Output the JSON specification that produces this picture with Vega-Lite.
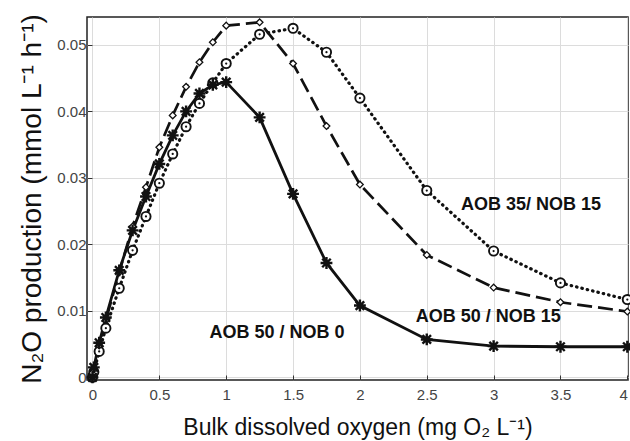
{
  "$schema": "https://vega.github.io/schema/vega-lite/v6.json",
  "autosize": {"type": "none"},
  "width": 541,
  "height": 363,
  "padding": {"left": 87, "top": 17, "right": 2, "bottom": 61},
  "background": "white",
  "config": {
    "view": {"stroke": "#222", "strokeWidth": 1.5},
    "axis": {
      "grid": true, "gridColor": "#dcdcdc", "gridWidth": 1,
      "domain": false, "ticks": true, "tickColor": "#333", "tickSize": -5,
      "labelFont": "Liberation Sans", "labelFontSize": 15, "labelColor": "#444",
      "titleFont": "Liberation Sans", "titleFontWeight": "normal", "titleColor": "#111"
    }
  },
  "datasets": {
    "series": [
      {"s": "AOB 50 / NOB 0", "x": 0, "y": 0},
      {"s": "AOB 50 / NOB 0", "x": 0.01, "y": 0.0015},
      {"s": "AOB 50 / NOB 0", "x": 0.05, "y": 0.0052},
      {"s": "AOB 50 / NOB 0", "x": 0.1, "y": 0.009},
      {"s": "AOB 50 / NOB 0", "x": 0.2, "y": 0.0161},
      {"s": "AOB 50 / NOB 0", "x": 0.3, "y": 0.0221},
      {"s": "AOB 50 / NOB 0", "x": 0.4, "y": 0.0272},
      {"s": "AOB 50 / NOB 0", "x": 0.5, "y": 0.0321},
      {"s": "AOB 50 / NOB 0", "x": 0.6, "y": 0.0364},
      {"s": "AOB 50 / NOB 0", "x": 0.7, "y": 0.0400},
      {"s": "AOB 50 / NOB 0", "x": 0.8, "y": 0.0427},
      {"s": "AOB 50 / NOB 0", "x": 0.9, "y": 0.0440},
      {"s": "AOB 50 / NOB 0", "x": 1.0, "y": 0.0444},
      {"s": "AOB 50 / NOB 0", "x": 1.25, "y": 0.0391},
      {"s": "AOB 50 / NOB 0", "x": 1.5, "y": 0.0276},
      {"s": "AOB 50 / NOB 0", "x": 1.75, "y": 0.0172},
      {"s": "AOB 50 / NOB 0", "x": 2.0, "y": 0.0108},
      {"s": "AOB 50 / NOB 0", "x": 2.5, "y": 0.0057},
      {"s": "AOB 50 / NOB 0", "x": 3.0, "y": 0.0047},
      {"s": "AOB 50 / NOB 0", "x": 3.5, "y": 0.0046},
      {"s": "AOB 50 / NOB 0", "x": 4.0, "y": 0.0046},
      {"s": "AOB 50 / NOB 15", "x": 0, "y": 0},
      {"s": "AOB 50 / NOB 15", "x": 0.01, "y": 0.0012},
      {"s": "AOB 50 / NOB 15", "x": 0.05, "y": 0.0048},
      {"s": "AOB 50 / NOB 15", "x": 0.1, "y": 0.0086},
      {"s": "AOB 50 / NOB 15", "x": 0.2, "y": 0.0158},
      {"s": "AOB 50 / NOB 15", "x": 0.3, "y": 0.0227},
      {"s": "AOB 50 / NOB 15", "x": 0.4, "y": 0.0286},
      {"s": "AOB 50 / NOB 15", "x": 0.5, "y": 0.0346},
      {"s": "AOB 50 / NOB 15", "x": 0.6, "y": 0.0394},
      {"s": "AOB 50 / NOB 15", "x": 0.7, "y": 0.0437},
      {"s": "AOB 50 / NOB 15", "x": 0.8, "y": 0.0474},
      {"s": "AOB 50 / NOB 15", "x": 0.9, "y": 0.0504},
      {"s": "AOB 50 / NOB 15", "x": 1.0, "y": 0.0529},
      {"s": "AOB 50 / NOB 15", "x": 1.25, "y": 0.0534},
      {"s": "AOB 50 / NOB 15", "x": 1.5, "y": 0.0472},
      {"s": "AOB 50 / NOB 15", "x": 1.75, "y": 0.0378},
      {"s": "AOB 50 / NOB 15", "x": 2.0, "y": 0.0290},
      {"s": "AOB 50 / NOB 15", "x": 2.5, "y": 0.0184},
      {"s": "AOB 50 / NOB 15", "x": 3.0, "y": 0.0135},
      {"s": "AOB 50 / NOB 15", "x": 3.5, "y": 0.0113},
      {"s": "AOB 50 / NOB 15", "x": 4.0, "y": 0.0099},
      {"s": "AOB 35/ NOB 15", "x": 0, "y": 0},
      {"s": "AOB 35/ NOB 15", "x": 0.01, "y": 0.0008},
      {"s": "AOB 35/ NOB 15", "x": 0.05, "y": 0.0039},
      {"s": "AOB 35/ NOB 15", "x": 0.1, "y": 0.0074},
      {"s": "AOB 35/ NOB 15", "x": 0.2, "y": 0.0134},
      {"s": "AOB 35/ NOB 15", "x": 0.3, "y": 0.0191},
      {"s": "AOB 35/ NOB 15", "x": 0.4, "y": 0.0242},
      {"s": "AOB 35/ NOB 15", "x": 0.5, "y": 0.0292},
      {"s": "AOB 35/ NOB 15", "x": 0.6, "y": 0.0336},
      {"s": "AOB 35/ NOB 15", "x": 0.7, "y": 0.0377},
      {"s": "AOB 35/ NOB 15", "x": 0.8, "y": 0.0412},
      {"s": "AOB 35/ NOB 15", "x": 0.9, "y": 0.0443},
      {"s": "AOB 35/ NOB 15", "x": 1.0, "y": 0.0472},
      {"s": "AOB 35/ NOB 15", "x": 1.25, "y": 0.0516},
      {"s": "AOB 35/ NOB 15", "x": 1.5, "y": 0.0525},
      {"s": "AOB 35/ NOB 15", "x": 1.75, "y": 0.0489},
      {"s": "AOB 35/ NOB 15", "x": 2.0, "y": 0.0420},
      {"s": "AOB 35/ NOB 15", "x": 2.5, "y": 0.0281},
      {"s": "AOB 35/ NOB 15", "x": 3.0, "y": 0.0190},
      {"s": "AOB 35/ NOB 15", "x": 3.5, "y": 0.0142},
      {"s": "AOB 35/ NOB 15", "x": 4.0, "y": 0.0117}
    ],
    "labels": [
      {"label": "AOB 35/ NOB 15", "x": 3.28, "y": 0.0259},
      {"label": "AOB 50 / NOB 15", "x": 2.96, "y": 0.0091},
      {"label": "AOB 50 / NOB 0", "x": 1.38, "y": 0.0066}
    ]
  },
  "encoding": {
    "x": {
      "field": "x", "type": "quantitative",
      "scale": {"domain": [-0.041, 4.005], "nice": false, "zero": false},
      "axis": {"values": [0, 0.5, 1, 1.5, 2, 2.5, 3, 3.5, 4], "format": "~g", "labelPadding": 12, "titlePadding": 14,
               "titleFontSize": 23, "title": "Bulk dissolved oxygen (mg O₂ L⁻¹)"}
    },
    "y": {
      "field": "y", "type": "quantitative",
      "scale": {"domain": [-0.0004, 0.0542], "nice": false, "zero": false},
      "axis": {"values": [0, 0.01, 0.02, 0.03, 0.04, 0.05], "format": "~g", "labelPadding": 6, "titlePadding": 10,
               "titleFontSize": 28, "title": "N₂O production (mmol L⁻¹ h⁻¹)"}
    }
  },
  "layer": [
    {
      "data": {"name": "series"},
      "transform": [{"filter": "datum.s === 'AOB 35/ NOB 15'"}],
      "mark": {"type": "line", "color": "#111", "strokeWidth": 3.2, "strokeDash": [0.5, 5], "strokeCap": "round"}
    },
    {
      "data": {"name": "series"},
      "transform": [{"filter": "datum.s === 'AOB 50 / NOB 15'"}],
      "mark": {"type": "line", "color": "#111", "strokeWidth": 2.7, "strokeDash": [15, 6]}
    },
    {
      "data": {"name": "series"},
      "transform": [{"filter": "datum.s === 'AOB 50 / NOB 0'"}],
      "mark": {"type": "line", "color": "#111", "strokeWidth": 2.8}
    },
    {
      "data": {"name": "series"},
      "transform": [{"filter": "datum.s === 'AOB 35/ NOB 15'"}],
      "mark": {"type": "point", "shape": "circle", "size": 85, "filled": false, "stroke": "#111", "strokeWidth": 1.9, "fill": "white", "opacity": 1}
    },
    {
      "data": {"name": "series"},
      "transform": [{"filter": "datum.s === 'AOB 35/ NOB 15'"}],
      "mark": {"type": "point", "shape": "circle", "size": 5, "filled": true, "color": "#111", "opacity": 1}
    },
    {
      "data": {"name": "series"},
      "transform": [{"filter": "datum.s === 'AOB 50 / NOB 15'"}],
      "mark": {"type": "point", "shape": "diamond", "size": 45, "filled": false, "stroke": "#111", "strokeWidth": 1.3, "fill": "white", "opacity": 1}
    },
    {
      "data": {"name": "series"},
      "transform": [{"filter": "datum.s === 'AOB 50 / NOB 0'"}],
      "mark": {"type": "point", "shape": "M-1,0L1,0M0,-1L0,1M-0.72,-0.72L0.72,0.72M-0.72,0.72L0.72,-0.72", "size": 140, "filled": false, "stroke": "#111", "strokeWidth": 2.4, "opacity": 1}
    },
    {
      "data": {"name": "labels"},
      "mark": {"type": "text", "font": "Liberation Sans", "fontWeight": "bold", "fontSize": 18, "color": "#111", "align": "center", "baseline": "middle"},
      "encoding": {"text": {"field": "label", "type": "nominal"}}
    }
  ]
}
